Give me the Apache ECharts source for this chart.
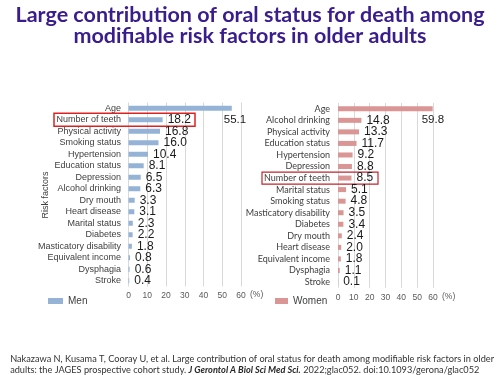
<!DOCTYPE html>
<html>
<head>
<meta charset="utf-8">
<script src="https://cdn.jsdelivr.net/npm/echarts@6/dist/echarts.min.js"></script>
<style>
  html, body { margin: 0; padding: 0; background: #fff; }
  #chart { width: 500px; height: 375px; }
</style>
</head>
<body>
<div id="chart"></div>
<script>
// categories, top to bottom
const menCats = ['Age', 'Number of teeth', 'Physical activity', 'Smoking status', 'Hypertension',
  'Education status', 'Depression', 'Alcohol drinking', 'Dry mouth', 'Heart disease',
  'Marital status', 'Diabetes', 'Masticatory disability', 'Equivalent income', 'Dysphagia', 'Stroke'];
const menVals = [55.1, 18.2, 16.8, 16.0, 10.4, 8.1, 6.5, 6.3, 3.3, 3.1, 2.3, 2.2, 1.8, 0.8, 0.6, 0.4];

const womenCats = ['Age', 'Alcohol drinking', 'Physical activity', 'Education status', 'Hypertension',
  'Depression', 'Number of teeth', 'Marital status', 'Smoking status', 'Masticatory disability',
  'Diabetes', 'Dry mouth', 'Heart disease', 'Equivalent income', 'Dysphagia', 'Stroke'];
const womenVals = [59.8, 14.8, 13.3, 11.7, 9.2, 8.8, 8.5, 5.1, 4.8, 3.5, 3.4, 2.4, 2.0, 1.8, 1.1, 0.1];

const xTicks = [0, 60, 10]; // min, max, interval

const titleText = 'Large contribution of oral status for death among\nmodifiable risk factors in older adults';
const citeText = 'Nakazawa N, Kusama T, Cooray U, et al. Large contribution of oral status for death among modifiable risk factors in older\n' +
  'adults: the JAGES prospective cohort study. {b|J Gerontol A Biol Sci Med Sci.} 2022;glac052. doi:10.1093/gerona/glac052';

const ARIAL = 'Liberation Sans, Arial, sans-serif';
const LATO = 'Lato, Calibri, sans-serif';

let chart = echarts.init(document.getElementById('chart'));

function xAxisOf(gridIndex) {
  return {
    type: 'value', gridIndex: gridIndex,
    min: xTicks[0], max: xTicks[1], interval: xTicks[2],
    name: '(%)', nameLocation: 'end', nameGap: 9,
    nameTextStyle: { fontSize: 8.5, color: '#595959', fontFamily: ARIAL, verticalAlign: 'top', padding: [4, 0, 0, 0] },
    axisLine: { show: false }, axisTick: { show: false },
    axisLabel: { fontSize: 8.5, color: '#595959', fontFamily: ARIAL, margin: 5 },
    splitLine: { lineStyle: { color: '#d9d9d9', width: 1 } }
  };
}

function yAxisOf(gridIndex, cats, font, size, margin) {
  return {
    type: 'category', gridIndex: gridIndex, data: cats, inverse: true,
    axisLine: { show: false }, axisTick: { show: false },
    axisLabel: { interval: 0, fontSize: size, color: '#404040', fontFamily: font, margin: margin }
  };
}

function barSeries(name, idx, vals, color, ageOffset) {
  return {
    name: name, type: 'bar', xAxisIndex: idx, yAxisIndex: idx,
    barWidth: 5,
    itemStyle: { color: color },
    label: {
      show: true, position: 'right', distance: 5,
      fontSize: 12, color: '#1a1a1a', fontFamily: ARIAL,
      formatter: p => p.value.toFixed(1)
    },
    // the Age label sits below the bar end, as on the slide
    data: vals.map((v, i) => i === 0 ? { value: v, label: { offset: ageOffset, fontSize: 11.5 } } : v)
  };
}

let option = {
  animation: false,
  title: [
    {
      text: titleText, left: 'center', top: 0,
      textStyle: { fontSize: 21.5, fontWeight: 'bold', color: '#3a1d8c', fontFamily: LATO, lineHeight: 21, align: 'center' }
    },
    {
      text: citeText, right: 1, top: 349,
      textStyle: {
        fontSize: 9.2, fontWeight: 'normal', color: '#333333', fontFamily: LATO, lineHeight: 11, align: 'right',
        rich: { b: { fontSize: 9.2, fontWeight: 'bold', fontStyle: 'italic', color: '#262626', fontFamily: LATO } }
      }
    }
  ],
  legend: [
    {
      data: ['Men'], left: 43, top: 291, icon: 'rect', itemWidth: 15, itemHeight: 6,
      textStyle: { fontSize: 10, color: '#404040', fontFamily: ARIAL }
    },
    {
      data: ['Women'], left: 270, top: 291, icon: 'rect', itemWidth: 13, itemHeight: 6,
      textStyle: { fontSize: 10, color: '#404040', fontFamily: ARIAL }
    }
  ],
  grid: [
    { left: 128.5, top: 102.5, width: 112.5, height: 184 },
    { left: 338, top: 103, width: 95, height: 184.8 }
  ],
  xAxis: [xAxisOf(0), xAxisOf(1)],
  yAxis: [yAxisOf(0, menCats, ARIAL, 9, 7.5), yAxisOf(1, womenCats, LATO, 9, 8)],
  series: [
    barSeries('Men', 0, menVals, '#95b3d7', [-13, 11.5]),
    barSeries('Women', 1, womenVals, '#d99694', [-16, 11])
  ]
};
chart.setOption(option);

// red boxes round "Number of teeth", placed from the category axes
const yMen = chart.convertToPixel({ yAxisIndex: 0 }, 'Number of teeth');
const yWomen = chart.convertToPixel({ yAxisIndex: 1 }, 'Number of teeth');
chart.setOption({
  graphic: [
    {
      type: 'rect', shape: { x: 54, y: yMen - 6.5, width: 141, height: 13 },
      style: { fill: 'none', stroke: '#e02020', lineWidth: 1.5 }
    },
    {
      type: 'rect', shape: { x: 262, y: yWomen - 6, width: 116, height: 12 },
      style: { fill: 'none', stroke: '#c0262c', lineWidth: 1.2 }
    },
    {
      type: 'text', x: 46, y: 195, rotation: Math.PI / 2,
      style: { text: 'Risk factors', fontSize: 9, fill: '#404040', fontFamily: ARIAL, textAlign: 'center', textVerticalAlign: 'middle' }
    }
  ]
});
</script>
</body>
</html>
